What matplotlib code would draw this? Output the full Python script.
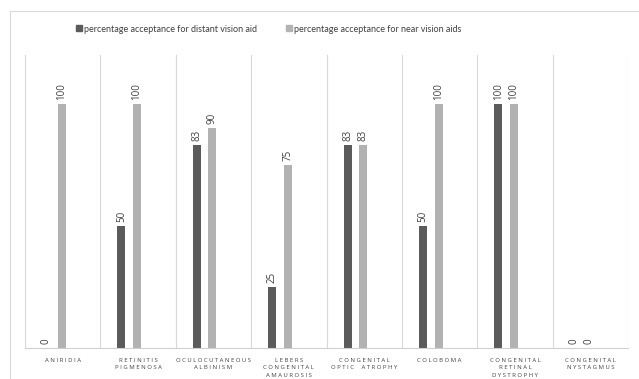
import matplotlib
matplotlib.use("Agg")
import matplotlib.pyplot as plt
from matplotlib.patches import Rectangle, Patch
import numpy as np

categories = [
    "ANIRIDIA",
    "RETINITIS\nPIGMENOSA",
    "OCULOCUTANEOUS\nALBINISM",
    "LEBERS\nCONGENITAL\nAMAUROSIS",
    "CONGENITAL\nOPTIC  ATROPHY",
    "COLOBOMA",
    "CONGENITAL\nRETINAL\nDYSTROPHY",
    "CONGENITAL\nNYSTAGMUS",
]
distant = [0, 50, 83, 25, 83, 50, 100, 0]
near = [100, 100, 90, 75, 83, 100, 100, 0]
series_names = [
    "percentage acceptance for distant vision aid",
    "percentage acceptance for near vision aids",
]

dark = "#5b5b5b"
light = "#b2b2b2"
grid = "#d9d9d9"

plt.rcParams["font.family"] = ["Open Sans", "DejaVu Sans"]

fig = plt.figure(figsize=(6.39, 3.79), dpi=100)
fig.patches.append(Rectangle((10 / 639, -0.1), 1.2, 1 - 11 / 379 + 0.1,
                             transform=fig.transFigure, fill=False,
                             edgecolor="#d9d9d9", linewidth=0.8))

ax = fig.add_axes([25 / 639, 31 / 379, 603 / 639, 293 / 379])
x = np.arange(len(categories))
w = 0.106
b1 = ax.bar(x - 0.22, distant, w, color=dark)
b2 = ax.bar(x - 0.013, near, w, color=light)

for bars, vals in ((b1, distant), (b2, near)):
    for r, v in zip(bars, vals):
        ax.annotate(f"{v}", (r.get_x() + r.get_width() / 2, v),
                    xytext=(0, 3), textcoords="offset points",
                    ha="center", va="bottom", rotation=90,
                    fontsize=7, color="#404040")

ax.set_xlim(-0.5, len(categories) - 0.5)
ax.set_ylim(0, 120)
for b in np.arange(-0.5, len(categories) + 0.5, 1):
    ax.axvline(b, color=grid, linewidth=0.8, zorder=0)
for s in ("top", "right", "left"):
    ax.spines[s].set_visible(False)
ax.spines["bottom"].set_color("#d0d0d0")
ax.set_yticks([])
ax.set_xticks(x)


def spaced(label):
    return "\n".join(" ".join(line) for line in label.split("\n"))


ax.set_xticklabels([spaced(c) for c in categories], fontsize=4.3,
                   color="#404040", linespacing=1.6, va="top")
ax.tick_params(axis="x", length=0, pad=7)

handles = [Patch(color=dark), Patch(color=light)]
fig.legend(handles, series_names, loc="center", bbox_to_anchor=(269 / 639, 1 - 29 / 379),
           ncol=2, frameon=False, prop={"family": ["Lato", "DejaVu Sans"], "size": 6.5},
           handlelength=0.65, handleheight=0.65,
           handletextpad=0.25, columnspacing=3.2, labelcolor="#404040")

fig.savefig("out.png", dpi=100)
